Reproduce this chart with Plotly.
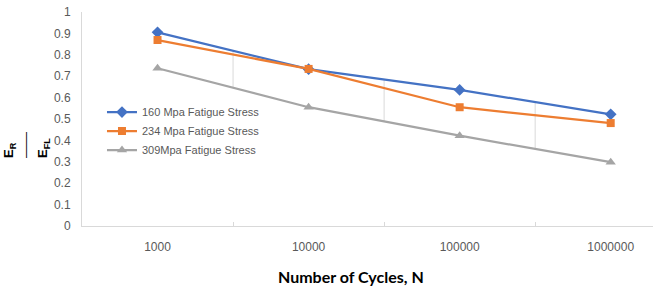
import plotly.graph_objects as go

categories = ["1000", "10000", "100000", "1000000"]
series_names = ["160 Mpa Fatigue Stress", "234 Mpa Fatigue Stress", "309Mpa Fatigue Stress"]
s160 = [0.905, 0.733, 0.636, 0.522]
s234 = [0.869, 0.734, 0.555, 0.481]
s309 = [0.737, 0.555, 0.422, 0.298]
y_ticks = [0, 0.1, 0.2, 0.3, 0.4, 0.5, 0.6, 0.7, 0.8, 0.9, 1]

colors = ["#4472C4", "#ED7D31", "#A5A5A5"]
symbols = ["diamond", "square", "triangle-up"]
sizes = [9, 8, 9]

xs = list(range(len(categories)))
fig = go.Figure()

# high-low lines between categories (from top series to bottom series)
all_series = [s160, s234, s309]
hx, hy = [], []
for i in range(len(categories) - 1):
    mids = [(s[i] + s[i + 1]) / 2 for s in all_series]
    hx += [i + 0.5, i + 0.5, None]
    hy += [max(mids), min(mids), None]
fig.add_trace(go.Scatter(x=hx, y=hy, mode="lines", line=dict(color="#d9d9d9", width=1),
                         showlegend=False, hoverinfo="skip"))

for name, vals, c, sym, sz in zip(series_names, all_series, colors, symbols, sizes):
    fig.add_trace(go.Scatter(x=xs, y=vals, name=name, mode="lines+markers",
                             line=dict(color=c, width=2.25),
                             marker=dict(symbol=sym, size=sz, color=c)))

fig.update_layout(
    width=653, height=290,
    margin=dict(l=82, r=0, t=12, b=64),
    paper_bgcolor="white", plot_bgcolor="white",
    font=dict(family="Liberation Sans, Arial", color="#595959", size=11),
    legend=dict(x=0.035, y=0.6, xanchor="left", yanchor="top",
                bgcolor="rgba(0,0,0,0)", font=dict(size=11, color="#595959"),
                itemwidth=30, tracegroupgap=0),
    xaxis=dict(range=[-0.5, 3.28], tickmode="array", tickvals=xs, ticktext=categories,
               showgrid=False, zeroline=False, showline=True, linecolor="#d9d9d9", linewidth=1,
               ticks="", ticklabelstandoff=10, tickfont=dict(size=12, color="#595959"),
               minor=dict(tickvals=[0.5, 1.5, 2.5], ticks="inside", ticklen=4, tickcolor="#d9d9d9",
                          showgrid=False)),
    yaxis=dict(range=[0, 1], tickmode="array", tickvals=y_ticks,
               ticktext=[f"{v:g}" for v in y_ticks],
               showgrid=False, zeroline=False, showline=True, linecolor="#d9d9d9", linewidth=1,
               ticks="", ticklabelstandoff=8, tickfont=dict(size=12, color="#595959")),
)

fig.add_annotation(text="<b>Number of Cycles, N</b>", xref="paper", yref="paper",
                   x=0.471, y=-0.238, xanchor="center", yanchor="middle", showarrow=False,
                   font=dict(family="Lato, Open Sans", size=16, color="#000000"))
fig.add_annotation(text="<b>E<sub>R</sub></b><br>――<br><b>E<sub>FL</sub></b>", xref="paper", yref="paper",
                   x=-0.0963, y=0.379, xanchor="center", yanchor="middle", showarrow=False,
                   textangle=-90, align="left",
                   font=dict(family="Liberation Sans, Arial", size=13, color="#000000"))

fig.write_html("out.html", config={"displayModeBar": False},
               post_script="document.body.style.margin='0';")
